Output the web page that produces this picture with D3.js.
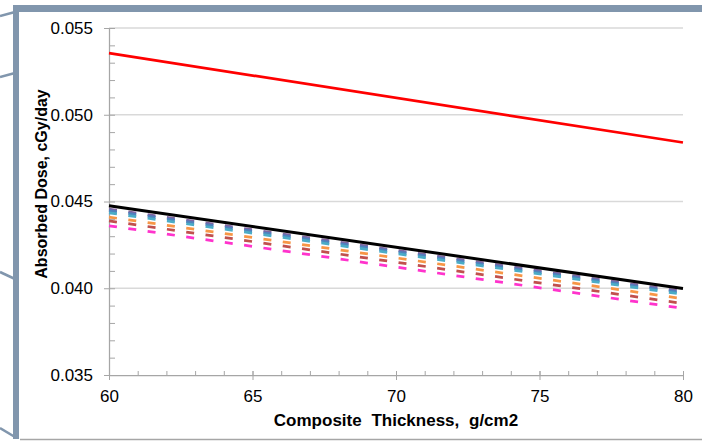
<!DOCTYPE html>
<html>
<head>
<meta charset="utf-8">
<script src="https://cdn.jsdelivr.net/npm/d3@7"></script>
<style>
  body { margin: 0; background: #fff; }
  svg { display: block; font-family: "Liberation Sans", Arial, sans-serif; }
</style>
</head>
<body>
<div id="chart"></div>
<script>
// Data (values at 60 and 80 g/cm2)
const thickness = [60, 80];
const redDose     = [0.05355, 0.04840];
const blackDose   = [0.04475, 0.03998];
const purpleDose  = [0.04456, 0.03982];
const blueDose    = [0.04447, 0.03974];
const tealDose    = [0.04435, 0.03965];
const orangeDose  = [0.04410, 0.03940];
const brownDose   = [0.04388, 0.03912];
const magentaDose = [0.04360, 0.03884];

const yTicks = [0.035, 0.040, 0.045, 0.050, 0.055];
const xTicks = [60, 65, 70, 75, 80];

const dashedSeries = [
  {values: purpleDose,  color: "#8064a2"},
  {values: blueDose,    color: "#4f81bd"},
  {values: tealDose,    color: "#4bacc6"},
  {values: orangeDose,  color: "#f79646"},
  {values: brownDose,   color: "#c0504d"},
  {values: magentaDose, color: "#ff33cc"}
];
const solidSeries = [
  {values: blackDose, color: "#000000", width: 3},
  {values: redDose,   color: "#ff0000", width: 2.75}
];

const W = 702, H = 441;
const margin = {top: 28, right: 19, bottom: 66, left: 109};

const svg = d3.select("#chart").append("svg")
    .attr("width", W)
    .attr("height", H);

// slide frame pieces
const frame = "#8196ad";
svg.append("rect").attr("x", 15).attr("y", 5).attr("width", W - 15).attr("height", 7).attr("fill", frame);
svg.append("rect").attr("x", 13).attr("y", 5).attr("width", 6).attr("height", 434).attr("fill", frame);
svg.append("line").attr("x1", 20).attr("x2", W).attr("y1", 439.5).attr("y2", 439.5)
    .attr("stroke", "#a6a6a6").attr("stroke-width", 1.5);
[[0, 16, 15, 12], [0, 77, 15, 73], [0, 272, 15, 279], [0, 428, 15, 437]].forEach(s => {
  svg.append("line").attr("x1", s[0]).attr("y1", s[1]).attr("x2", s[2]).attr("y2", s[3])
      .attr("stroke", frame).attr("stroke-width", 2.5);
});

const g = svg.append("g")
    .attr("transform", `translate(${margin.left},${margin.top})`);
const width = W - margin.left - margin.right;
const height = 375 - margin.top;

const xScale = d3.scaleLinear().domain([60, 80]).range([0, width]);
const yScale = d3.scaleLinear().domain([0.035, 0.055]).range([height, 0]);

// gridlines
g.append("g")
  .selectAll("line")
  .data(yTicks.slice(1))
  .join("line")
    .attr("x1", 0).attr("x2", width)
    .attr("y1", d => yScale(d)).attr("y2", d => yScale(d))
    .attr("stroke", "#d9d9d9").attr("stroke-width", 1.5);

// minor ticks
const yMinor = d3.range(0.035, 0.0551, 0.001);
const xMinor = d3.range(60, 80.1, 1);
g.append("g")
    .call(d3.axisLeft(yScale).tickValues(yMinor).tickSize(-6).tickFormat(""))
    .call(a => a.select(".domain").remove())
    .selectAll("line").attr("stroke", "#a6a6a6");
g.append("g")
    .attr("transform", `translate(0,${height})`)
    .call(d3.axisBottom(xScale).tickValues(xMinor).tickSize(-4).tickFormat(""))
    .call(a => a.select(".domain").remove())
    .selectAll("line").attr("stroke", "#a6a6a6");

// main axes
const yAxis = g.append("g")
    .call(d3.axisLeft(yScale).tickValues(yTicks).tickSize(5).tickSizeOuter(0)
      .tickPadding(11).tickFormat(d3.format(".3f")));
const xAxis = g.append("g")
    .attr("transform", `translate(0,${height})`)
    .call(d3.axisBottom(xScale).tickValues(xTicks).tickSize(5).tickSizeOuter(0)
      .tickPadding(10).tickFormat(d3.format("d")));
xAxis.selectAll(".tick line").attr("y1", -4);
[yAxis, xAxis].forEach(a => {
  a.select(".domain").attr("stroke", "#a6a6a6").attr("stroke-width", 1.25);
  a.selectAll(".tick line").attr("stroke", "#a6a6a6");
  a.selectAll("text").attr("font-size", 17).attr("fill", "#000")
      .attr("font-family", "Liberation Sans, Arial, sans-serif");
});

// series
const line = d3.line()
    .x((d, i) => xScale(thickness[i]))
    .y(d => yScale(d));

g.append("g")
  .selectAll("path")
  .data(dashedSeries)
  .join("path")
    .attr("d", d => line(d.values))
    .attr("fill", "none")
    .attr("stroke", d => d.color)
    .attr("stroke-width", 2.75)
    .attr("stroke-dasharray", "8,11.5");

g.append("g")
  .selectAll("path")
  .data(solidSeries)
  .join("path")
    .attr("d", d => line(d.values))
    .attr("fill", "none")
    .attr("stroke", d => d.color)
    .attr("stroke-width", d => d.width);

// axis titles
svg.append("text")
    .attr("x", margin.left + width / 2)
    .attr("y", 426)
    .attr("text-anchor", "middle")
    .attr("font-size", 17)
    .attr("font-weight", "bold")
    .attr("word-spacing", 5)
    .text("Composite Thickness, g/cm2");

svg.append("text")
    .attr("transform", "translate(47,184) rotate(-90)")
    .attr("text-anchor", "middle")
    .attr("font-size", 16)
    .attr("font-weight", "bold")
    .text("Absorbed Dose, cGy/day");
</script>
</body>
</html>
